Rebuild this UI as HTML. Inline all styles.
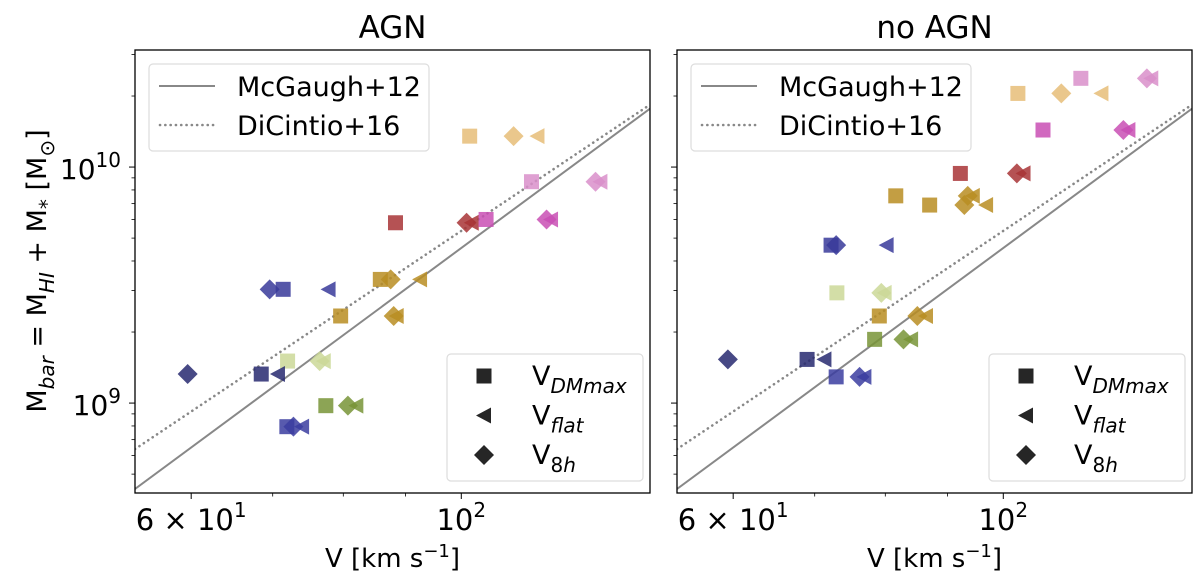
<!DOCTYPE html>
<html><head><meta charset="utf-8">
<style>
html,body{margin:0;padding:0;background:#fff;}
svg{display:block;font-family:"DejaVu Sans","Liberation Sans",sans-serif;}
</style></head>
<body>
<svg id="chart" width="1200" height="585" viewBox="0 0 1200 585"></svg>
<script>
// ---- data ----
const groupColors = ["#e6bd78","#d98fca","#a83436","#c94fb4","#b88d22","#38399a","#cbd898","#272970","#789437","#3b3da0","#b88d22"];
// AGN panel: V values (km/s) for square (V_DMmax), triangle (V_flat), diamond (V_8h); log Mbar
const agnSquareV   = [101.6,114.2,88.3,104.8,85.8,79.6,71.4,72.0,68.5,77.4,71.9];
const agnTriV      = [115.5,130.1,102.0,118.5,92.5,88.5,77.8,77.1,70.7,82.0,74.0];
const agnDiamondV  = [110.4,128.9,101.0,117.5,87.5,88.0,69.6,76.5,59.6,80.7,72.8];
const agnLogM      = [10.131,9.938,9.764,9.778,9.524,9.369,9.482,9.178,9.123,8.989,8.900];
const agnColorIdx  = [0,1,2,3,4,4,5,6,7,8,9];
// no AGN panel
const noagnSquareV  = [102.8,115.8,107.8,92.2,81.6,87.0,72.2,73.0,79.1,78.4,69.0,72.9];
const noagnTriV     = [120.4,132.3,126.7,103.9,94.4,96.8,80.2,79.9,86.4,84.0,71.3,76.9];
const noagnDiamondV = [111.6,131.2,125.5,102.6,93.5,92.9,72.9,79.4,85.0,82.8,59.4,76.2];
const noagnLogM     = [10.312,10.376,10.157,9.973,9.878,9.839,9.669,9.467,9.369,9.270,9.185,9.111];
const noagnColorIdx = [0,1,3,2,4,4,5,6,4,8,7,9];
// reference relations: [intercept at logV0, slope]
const mcgaugh = [8.636,3.81];
const dicintio = [8.805,3.45];
const relLogV0 = 1.732;
const xTickLabels = ["6 × 10¹","10²"];
const xTickVals = [60,100];
const xMinorVals = [70,80,90];
const yTickVals = [9,10];

const NS="http://www.w3.org/2000/svg";
const svg=document.getElementById('chart');
function el(tag,attrs,parent){const e=document.createElementNS(NS,tag);for(const k in attrs)e.setAttribute(k,attrs[k]);(parent||svg).appendChild(e);return e;}

const LOGV_MIN=1.732, LOGV_MAX=2.155, LOGM_MIN=8.619, LOGM_MAX=10.496;
function makeAxes(x0){
  const w=515, top=50, bot=493;
  return {
    x:v=>x0+(Math.log10(v)-LOGV_MIN)/(LOGV_MAX-LOGV_MIN)*w,
    xl:lv=>x0+(lv-LOGV_MIN)/(LOGV_MAX-LOGV_MIN)*w,
    y:lm=>bot-(lm-LOGM_MIN)/(LOGM_MAX-LOGM_MIN)*(bot-top),
    x0,w,top,bot
  };
}

function marker(g,type,cx,cy,color){
  let m;
  if(type==='s'){m=el('rect',{x:cx-7.5,y:cy-7.5,width:15,height:15,fill:color,'fill-opacity':0.85},g);}
  else if(type==='t'){m=el('polygon',{points:`${cx-8},${cy} ${cx+7},${cy-8} ${cx+7},${cy+8}`,fill:color,'fill-opacity':0.85},g);}
  else {m=el('polygon',{points:`${cx},${cy-10} ${cx+10},${cy} ${cx},${cy+10} ${cx-10},${cy}`,fill:color,'fill-opacity':0.85},g);}
  
  
}

function panel(x0,title,sq,tri,dia,logm,cidx,name){
  const a=makeAxes(x0);
  const g=el('g',{});
  
  
  const clip=el('clipPath',{id:'c'+x0},g);
  el('rect',{x:a.x0,y:a.top,width:a.w,height:a.bot-a.top},clip);
  const pg=el('g',{'clip-path':`url(#c${x0})`},g);
  [[mcgaugh,'','mcgaugh-line'],[dicintio,'d','dicintio-line']].forEach(([r,d,n])=>{
    const f=lv=>r[0]+r[1]*(lv-relLogV0);
    const l=el('line',{x1:a.xl(LOGV_MIN),y1:a.y(f(LOGV_MIN)),x2:a.xl(LOGV_MAX),y2:a.y(f(LOGV_MAX)),stroke:'#888',
      'stroke-width':d?2.6:2,'stroke-linecap':d?'round':'butt'},pg);
    if(d) l.setAttribute('stroke-dasharray','0.1 5.2');
    
    
  });
  for(let i=0;i<logm.length;i++){
    const c=groupColors[cidx[i]];const cy=a.y(logm[i]);
    marker(pg,'s',a.x(sq[i]),cy,c);
    marker(pg,'t',a.x(tri[i]),cy,c);
    marker(pg,'d',a.x(dia[i]),cy,c);
  }
  const fr=el('rect',{x:a.x0,y:a.top,width:a.w,height:a.bot-a.top,fill:'none',stroke:'#000','stroke-width':1.3},g);
  
  
  xTickVals.forEach((v,i)=>{
    const x=a.x(v);
    el('line',{x1:x,y1:a.bot,x2:x,y2:a.bot+6,stroke:'#000','stroke-width':1},g);
    const t=el('text',{x:x,y:a.bot+37,'font-size':29,'text-anchor':'middle'},g);
    t.innerHTML=i===0?'6 × 10<tspan dy="-13" font-size="20">1</tspan>':'10<tspan dy="-13" font-size="20">2</tspan>';
    
    
  });
  xMinorVals.forEach(v=>{const x=a.x(v);el('line',{x1:x,y1:a.bot,x2:x,y2:a.bot+3.5,stroke:'#000','stroke-width':0.8},g);});
  for(let e=8;e<=10;e++){
    for(let k=1;k<10;k++){
      const lm=e+Math.log10(k);
      if(lm<LOGM_MIN||lm>LOGM_MAX)continue;
      const y=a.y(lm);
      el('line',{x1:a.x0-(k===1?6:3.5),y1:y,x2:a.x0,y2:y,stroke:'#000','stroke-width':k===1?1:0.8},g);
    }
  }
  if(x0<300){
    yTickVals.forEach(e=>{
      const y=a.y(e);
      const t=el('text',{x:a.x0-14,y:y+12,'font-size':28,'text-anchor':'end'},g);
      t.innerHTML=`10<tspan dy="-12" font-size="20">${e}</tspan>`;
      
      
    });
  }
  const tt=el('text',{x:a.x0+a.w/2,y:38,'font-size':31,'text-anchor':'middle'},g);
  tt.textContent=title;
  
  
  const xl=el('text',{x:a.x0+a.w/2,y:567,'font-size':26,'text-anchor':'middle'},g);
  xl.innerHTML='V [km s<tspan dy="-10" font-size="18">−1</tspan><tspan dy="10">]</tspan>';
  
  
  const lg=el('g',{},g);
  
  
  el('rect',{x:a.x0+14,y:64,width:280,height:87,rx:4,fill:'#fff','fill-opacity':0.8,stroke:'#ddd','stroke-width':1.2},lg);
  el('line',{x1:a.x0+24,y1:86,x2:a.x0+80,y2:86,stroke:'#888','stroke-width':2},lg);
  el('line',{x1:a.x0+25,y1:125,x2:a.x0+80,y2:125,stroke:'#888','stroke-width':2.6,'stroke-dasharray':'0.1 5.2','stroke-linecap':'round'},lg);
  let t1=el('text',{x:a.x0+102,y:96,'font-size':27},lg);t1.textContent='McGaugh+12';
  let t2=el('text',{x:a.x0+102,y:135,'font-size':27},lg);t2.textContent='DiCintio+16';
  const lg2=el('g',{},g);
  
  
  const lx=a.x0+312;
  el('rect',{x:lx,y:354,width:196,height:127,rx:4,fill:'#fff','fill-opacity':0.8,stroke:'#ddd','stroke-width':1.2},lg2);
  const lab=[['s','DMmax'],['t','flat'],['d','8h']];
  lab.forEach((l,i)=>{
    const cy=376+i*39.5;
    marker(lg2,l[0],lx+37,cy,'#000');
    const t=el('text',{x:lx+85,y:cy+9,'font-size':27},lg2);
    t.innerHTML=`V<tspan dy="8" font-size="20" font-style="${l[1]==='8h'?'normal':'italic'}">${l[1]==='8h'?'8<tspan font-style="italic">h</tspan>':l[1]}</tspan>`;
  });
}
panel(135,'AGN',agnSquareV,agnTriV,agnDiamondV,agnLogM,agnColorIdx,'agn-panel');
panel(677,'no AGN',noagnSquareV,noagnTriV,noagnDiamondV,noagnLogM,noagnColorIdx,'no-agn-panel');
const yl=el('text',{x:0,y:0,'font-size':27,'text-anchor':'middle',transform:'translate(46,271) rotate(-90)'});
yl.innerHTML='M<tspan dy="8" font-size="20" font-style="italic">bar</tspan><tspan dy="-8"> = M</tspan><tspan dy="8" font-size="20" font-style="italic">HI</tspan><tspan dy="-8"> + M</tspan><tspan dy="8" font-size="20">*</tspan><tspan dy="-8"> [M</tspan><tspan dy="8" font-size="20">⊙</tspan><tspan dy="-8">]</tspan>';


</script>
</body></html>
